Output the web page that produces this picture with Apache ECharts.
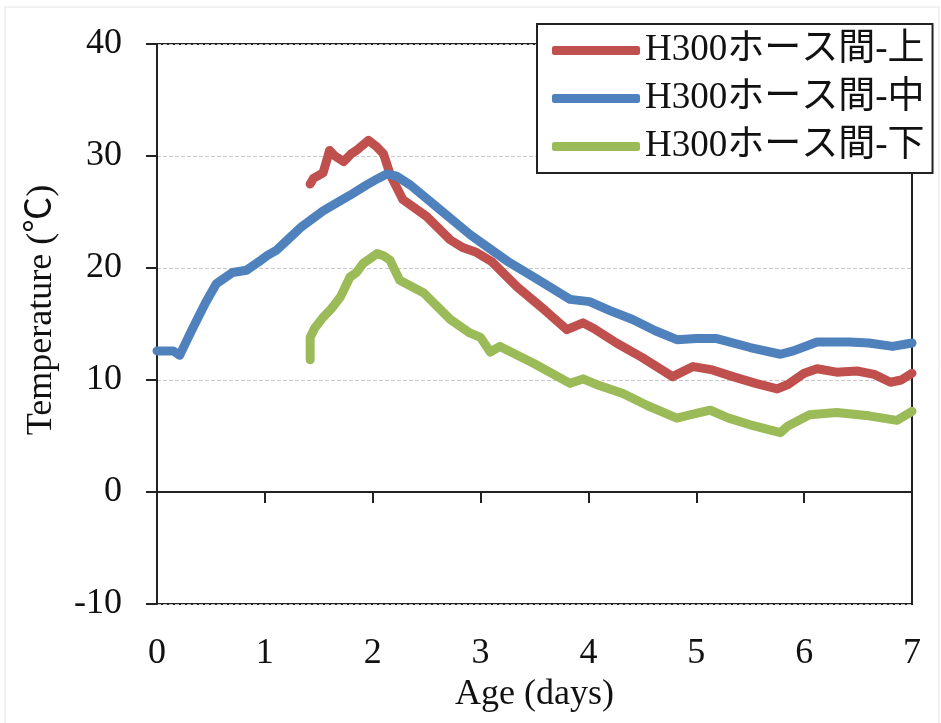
<!DOCTYPE html>
<html>
<head>
<meta charset="utf-8">
<script src="https://cdn.jsdelivr.net/npm/echarts@6/dist/echarts.min.js"></script>
<style>
  html, body { margin: 0; padding: 0; background: #fff; }
  #main { width: 941px; height: 723px; }
</style>
</head>
<body>
<div id="main"></div>
<script>
var seriesNames = ['H300ホース間-上', 'H300ホース間-中', 'H300ホース間-下'];
var xTicks = [0, 1, 2, 3, 4, 5, 6, 7];
var yTicks = [-10, 0, 10, 20, 30, 40];

// 上 (red)
var upperAge = [1.42, 1.45, 1.54, 1.6, 1.65, 1.73, 1.8, 1.85, 1.96, 2.04, 2.1, 2.16, 2.28, 2.5, 2.72, 2.84, 2.96, 3.1, 3.34, 3.6, 3.8, 3.95, 4.05, 4.26, 4.5, 4.78, 4.97, 5.15, 5.34, 5.55, 5.75, 5.85, 6.0, 6.12, 6.3, 6.49, 6.65, 6.8, 6.9, 7.0];
var upperTemp = [27.5, 28.0, 28.5, 30.5, 30.0, 29.5, 30.2, 30.5, 31.4, 30.8, 30.2, 28.4, 26.1, 24.6, 22.5, 21.8, 21.4, 20.6, 18.3, 16.2, 14.5, 15.1, 14.6, 13.3, 12.0, 10.3, 11.2, 10.9, 10.3, 9.7, 9.2, 9.6, 10.6, 11.0, 10.7, 10.8, 10.5, 9.8, 10.0, 10.6];

// 中 (blue)
var middleAge = [0, 0.15, 0.21, 0.33, 0.45, 0.55, 0.7, 0.83, 0.95, 1.02, 1.11, 1.22, 1.33, 1.54, 1.79, 1.94, 2.05, 2.13, 2.22, 2.35, 2.6, 2.9, 3.06, 3.25, 3.49, 3.83, 4.01, 4.2, 4.41, 4.62, 4.82, 5.0, 5.19, 5.5, 5.78, 5.9, 6.12, 6.42, 6.6, 6.82, 7.0];
var middleTemp = [12.6, 12.6, 12.2, 14.6, 16.9, 18.6, 19.6, 19.8, 20.6, 21.1, 21.6, 22.6, 23.6, 25.1, 26.5, 27.4, 28.0, 28.4, 28.2, 27.4, 25.4, 23.0, 21.9, 20.6, 19.2, 17.2, 17.0, 16.2, 15.4, 14.4, 13.6, 13.7, 13.7, 12.9, 12.3, 12.6, 13.4, 13.4, 13.3, 13.0, 13.3];

// 下 (green)
var lowerAge = [1.42, 1.42, 1.46, 1.54, 1.62, 1.7, 1.79, 1.85, 1.91, 2.0, 2.04, 2.1, 2.16, 2.25, 2.47, 2.72, 2.9, 3.0, 3.09, 3.18, 3.49, 3.83, 3.95, 4.1, 4.32, 4.55, 4.82, 4.95, 5.13, 5.3, 5.5, 5.78, 5.85, 6.05, 6.3, 6.6, 6.86, 7.0];
var lowerTemp = [11.8, 13.8, 14.6, 15.6, 16.4, 17.4, 19.2, 19.6, 20.4, 21.0, 21.3, 21.1, 20.7, 18.9, 17.8, 15.4, 14.2, 13.8, 12.5, 13.0, 11.5, 9.7, 10.1, 9.5, 8.8, 7.7, 6.6, 6.9, 7.3, 6.6, 6.0, 5.3, 5.9, 6.9, 7.1, 6.8, 6.4, 7.2];

var colors = ['#c0504d', '#4f81bd', '#9bbb59'];

function pairs(xs, ys) {
  return xs.map(function (x, i) { return [x, ys[i]]; });
}

var serifFont = '"Liberation Serif", "Times New Roman", "Noto Sans CJK JP", serif';

var myChart = echarts.init(document.getElementById('main'));
var option = {
  backgroundColor: '#fff',
  animation: false,
  color: colors,
  graphic: [{
    type: 'rect',
    shape: { x: 5, y: 7, width: 934, height: 720 },
    style: { fill: 'none', stroke: '#e4e4e4', lineWidth: 1 },
    silent: true
  }],
  grid: {
    left: 157,
    right: 29,
    top: 44,
    bottom: 119,
    show: true,
    borderColor: '#222',
    borderWidth: 2,
    backgroundColor: 'transparent'
  },
  legend: {
    orient: 'vertical',
    left: 537,
    top: 24,
    padding: [8, 8, 8, 15],
    itemGap: 11,
    itemWidth: 88,
    itemHeight: 9,
    icon: 'roundRect',
    backgroundColor: '#fff',
    borderColor: '#222',
    borderWidth: 2,
    z: 10,
    textStyle: {
      fontFamily: serifFont,
      fontSize: 37,
      color: '#111'
    },
    data: seriesNames
  },
  xAxis: {
    type: 'value',
    min: xTicks[0],
    max: xTicks[xTicks.length - 1],
    interval: 1,
    name: 'Age (days)',
    nameLocation: 'middle',
    nameGap: 72,
    nameTextStyle: { fontFamily: serifFont, fontSize: 36, color: '#111' },
    axisLine: { lineStyle: { color: '#222', width: 2 } },
    axisTick: { show: true, inside: false, length: 11, lineStyle: { color: '#222', width: 2 } },
    axisLabel: { margin: 32, fontFamily: serifFont, fontSize: 36, color: '#111' },
    splitLine: { show: false }
  },
  yAxis: {
    type: 'value',
    min: yTicks[0],
    max: yTicks[yTicks.length - 1],
    interval: 10,
    name: 'Temperature (℃)',
    nameLocation: 'middle',
    nameGap: 97,
    nameTextStyle: { fontFamily: serifFont, fontSize: 36, color: '#111', padding: [0, 0, 0, 28] },
    axisLine: { lineStyle: { color: '#222', width: 2 } },
    axisTick: { show: true, inside: false, length: 11, lineStyle: { color: '#222', width: 2 } },
    axisLabel: { margin: 35, fontFamily: serifFont, fontSize: 36, color: '#111' },
    splitLine: { show: true, lineStyle: { color: '#c8c8c8', type: 'dashed', width: 1 } }
  },
  series: [
    {
      name: seriesNames[0],
      type: 'line',
      data: pairs(upperAge, upperTemp),
      showSymbol: false,
      lineStyle: { width: 9, color: colors[0], cap: 'round', join: 'round' }
    },
    {
      name: seriesNames[1],
      type: 'line',
      data: pairs(middleAge, middleTemp),
      showSymbol: false,
      lineStyle: { width: 9, color: colors[1], cap: 'round', join: 'round' }
    },
    {
      name: seriesNames[2],
      type: 'line',
      data: pairs(lowerAge, lowerTemp),
      showSymbol: false,
      lineStyle: { width: 9, color: colors[2], cap: 'round', join: 'round' }
    }
  ]
};
myChart.setOption(option);

window.addEventListener('resize', function () {
  myChart.resize();
});
</script>
</body>
</html>
